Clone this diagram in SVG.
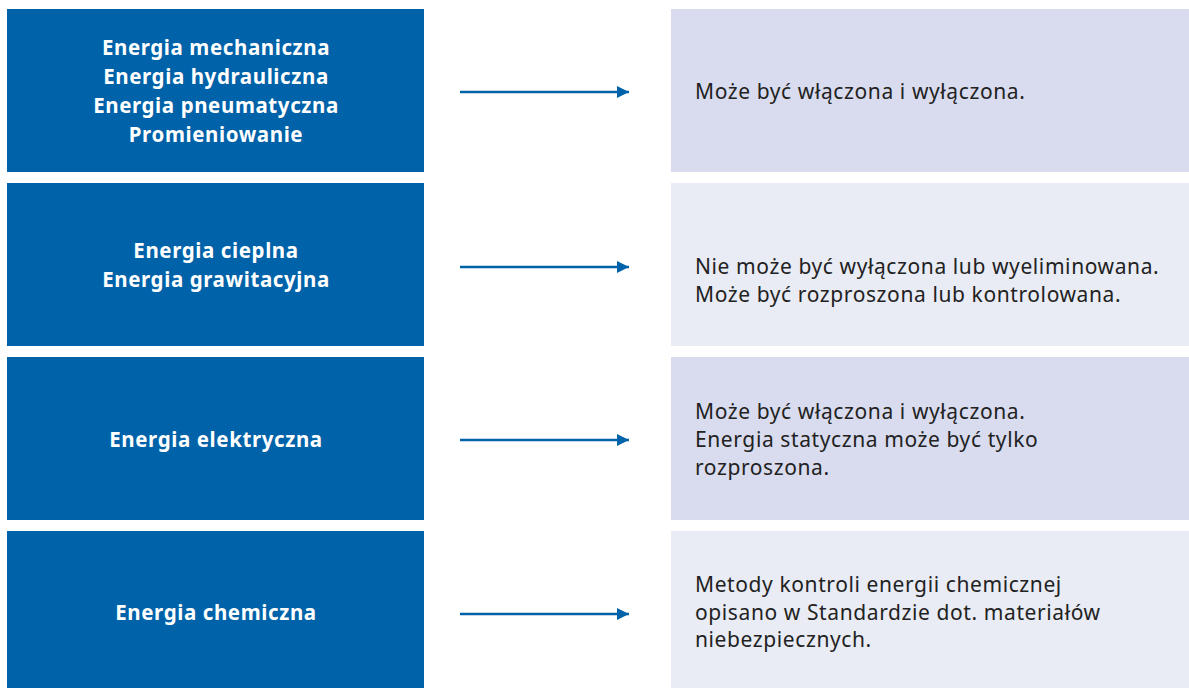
<svg xmlns="http://www.w3.org/2000/svg" width="1189" height="688" viewBox="0 0 1189 688">
<defs>
<marker id="ah" viewBox="0 0 10 10" refX="10" refY="5" markerWidth="6.5" markerHeight="4.8" markerUnits="strokeWidth" orient="auto"><path d="M0,0 L10,5 L0,10 Z" fill="#0062A8"/></marker>
<style>
.l{fill:#0062A8}
.ra{fill:#D9DCEE}
.rb{fill:#E9ECF4}
.lt{font-family:"Noto Sans","Open Sans",sans-serif;font-weight:bold;font-size:20.5px;letter-spacing:0.6px;fill:#fff;text-anchor:middle}
.rt{font-family:"Noto Sans","Open Sans",sans-serif;font-size:21px;letter-spacing:0.6px;fill:#222}
.c{stroke:#0062A8;stroke-width:2.5;fill:none}
</style>
</defs>
<rect width="1189" height="688" fill="#fff"/>
<g id="n1"><rect class="l" x="7" y="9" width="417" height="163"/>
<text class="lt"><tspan x="216" y="55">Energia mechaniczna</tspan><tspan x="216" y="84">Energia hydrauliczna</tspan><tspan x="216" y="113">Energia pneumatyczna</tspan><tspan x="216" y="142">Promieniowanie</tspan></text></g>
<g id="n2"><rect class="l" x="7" y="183" width="417" height="163"/>
<text class="lt"><tspan x="216" y="258">Energia cieplna</tspan><tspan x="216" y="287">Energia grawitacyjna</tspan></text></g>
<g id="n3"><rect class="l" x="7" y="357" width="417" height="163"/>
<text class="lt"><tspan x="216" y="447">Energia elektryczna</tspan></text></g>
<g id="n4"><rect class="l" x="7" y="531" width="417" height="157"/>
<text class="lt"><tspan x="216" y="620">Energia chemiczna</tspan></text></g>
<g id="d1"><rect class="ra" x="671" y="9" width="518" height="163"/>
<text class="rt"><tspan x="695" y="99">Może być włączona i wyłączona.</tspan></text></g>
<g id="d2"><rect class="rb" x="671" y="183" width="518" height="163"/>
<text class="rt"><tspan x="695" y="274">Nie może być wyłączona lub wyeliminowana.</tspan><tspan x="695" y="302">Może być rozproszona lub kontrolowana.</tspan></text></g>
<g id="d3"><rect class="ra" x="671" y="357" width="518" height="163"/>
<text class="rt"><tspan x="695" y="419">Może być włączona i wyłączona.</tspan><tspan x="695" y="447">Energia statyczna może być tylko</tspan><tspan x="695" y="475">rozproszona.</tspan></text></g>
<g id="d4"><rect class="rb" x="671" y="531" width="518" height="157"/>
<text class="rt"><tspan x="695" y="592">Metody kontroli energii chemicznej</tspan><tspan x="695" y="620">opisano w Standardzie dot. materiałów</tspan><tspan x="695" y="647">niebezpiecznych.</tspan></text></g>
<g id="connectors">
<line class="c" x1="460" y1="92" x2="629" y2="92" marker-end="url(#ah)"/>
<line class="c" x1="460" y1="267" x2="629" y2="267" marker-end="url(#ah)"/>
<line class="c" x1="460" y1="440" x2="629" y2="440" marker-end="url(#ah)"/>
<line class="c" x1="460" y1="614" x2="629" y2="614" marker-end="url(#ah)"/>
</g>
</svg>
